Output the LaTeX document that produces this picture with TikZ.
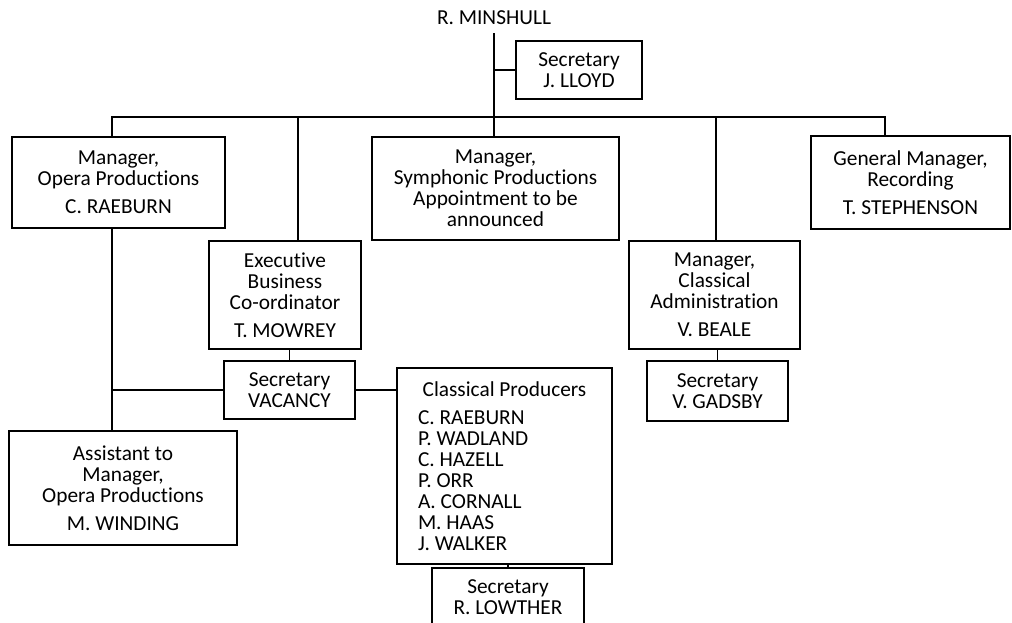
\documentclass[tikz,border=0pt]{standalone}
\usepackage{fontspec}
\setmainfont{Carlito}[Ligatures={NoCommon}]
\usetikzlibrary{positioning}
\frenchspacing

\tikzset{
  orgbox/.style={draw, line width=1.1pt, align=flush center, inner sep=0pt,
    font=\fontsize{16pt}{15.75pt}\selectfont},
  orgline/.style={line width=1.1pt},
}

\begin{document}
\begin{tikzpicture}[x=0.75pt, y=-0.75pt]
    \useasboundingbox (0,0) rectangle (1012,623);
    % head and secretary
    \node[inner sep=6pt, font=\fontsize{16pt}{15.75pt}\selectfont] (minshull) at (494,18) {R. MINSHULL};
    \node[orgbox, minimum width=94.5pt, minimum height=43.5pt] (lloyd) at (579,70) {Secretary\\J. LLOYD};
    % first row
    \node[orgbox, minimum width=159.75pt, minimum height=68.25pt] (opera) at (118.5,182.5)
        {Manager,\\Opera Productions\\[5.25pt]C. RAEBURN};
    \node[orgbox, minimum width=185.25pt, minimum height=77.25pt] (symph) at (495.5,188.5)
        {Manager,\\Symphonic Productions\\Appointment to be\\announced};
    \node[orgbox, minimum width=149.25pt, minimum height=69.75pt] (gm) at (910.5,182.5)
        {General Manager,\\Recording\\[5.25pt]T. STEPHENSON};
    % second row
    \node[orgbox, minimum width=114pt, minimum height=81pt] (exec) at (285,295)
        {Executive\\Business\\Co-ordinator\\[5.25pt]T. MOWREY};
    \node[orgbox, minimum width=128.25pt, minimum height=81pt] (admin) at (714.5,295)
        {Manager,\\Classical\\Administration\\[5.25pt]V. BEALE};
    % secretaries
    \node[orgbox, minimum width=98.25pt, minimum height=43.5pt] (vacancy) at (289.5,390) {Secretary\\VACANCY};
    \node[orgbox, minimum width=105.75pt, minimum height=45pt] (gadsby) at (717.5,391) {Secretary\\V. GADSBY};
    % lower row
    \node[orgbox, minimum width=171pt, minimum height=85.5pt] (assist) at (123,488)
        {Assistant to\\Manager,\\Opera Productions\\[5.25pt]M. WINDING};
    \node[orgbox, align=flush left, text width=129.75pt, inner xsep=15.75pt, minimum height=147pt] (producers) at (504.5,466)
        {\makebox[129.75pt]{Classical Producers}\\[5.25pt]
         C. RAEBURN\\P. WADLAND\\C. HAZELL\\P. ORR\\A. CORNALL\\M. HAAS\\J. WALKER};
    \node[orgbox, minimum width=114pt, minimum height=43.5pt] (lowther) at (508,597) {Secretary\\R. LOWTHER};

    % connectors
    \coordinate (busL) at (112,117);
    \coordinate (busR) at (885,117);
    \coordinate (execdrop) at (298,117);
    \coordinate (admindrop) at (716,117);
    \draw[orgline] (minshull) -- (minshull |- symph.north);
    \draw[orgline] (lloyd.west) -- (lloyd.west -| minshull);
    \draw[orgline] (opera.north -| busL) -- (busL) -- (busR) -- (busR |- gm.north);
    \draw[orgline] (execdrop) -- (execdrop |- exec.north);
    \draw[orgline] (admindrop) -- (admindrop |- admin.north);
    \draw[orgline] (opera.south -| busL) -- (busL |- assist.north);
    \draw[orgline] (vacancy.west) -- (vacancy.west -| busL);
    \draw[orgline] (vacancy.north) -- (vacancy.north |- exec.south);
    \draw[orgline] (vacancy.east) -- (vacancy.east -| producers.west);
    \draw[orgline] (gadsby.north) -- (gadsby.north |- admin.south);
    \draw[orgline] (lowther.north) -- (lowther.north |- producers.south);
\end{tikzpicture}
\end{document}
